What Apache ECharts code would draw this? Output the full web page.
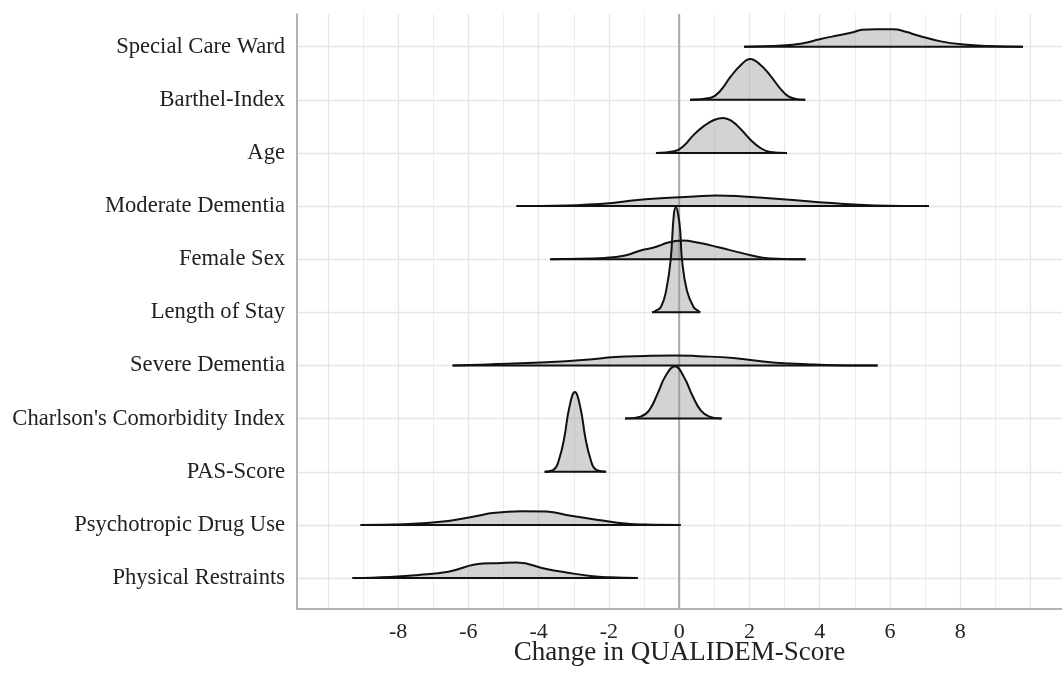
<!DOCTYPE html>
<html><head><meta charset="utf-8">
<script src="https://cdn.jsdelivr.net/npm/echarts@6/dist/echarts.min.js"></script>
<style>html,body{margin:0;padding:0;background:#fff}#chart{width:1062px;height:675px}</style>
</head><body><div id="chart"></div>
<script>
// Categories from bottom (index 0) to top (index 10)
const categories = ['Physical Restraints', 'Psychotropic Drug Use', 'PAS-Score', "Charlson's Comorbidity Index",
  'Severe Dementia', 'Length of Stay', 'Female Sex', 'Moderate Dementia', 'Age', 'Barthel-Index', 'Special Care Ward'];
const xTickLabels = [-8, -6, -4, -2, 0, 2, 4, 6, 8];

// Density outlines: x positions and ridge heights (in row units)
const physicalRestraintsX = [-9.3, -8.25, -7.41, -6.57, -5.59, -5.17, -4.62, -3.78, -3.22, -2.52, -1.96, -1.18];
const physicalRestraintsH = [0, 0.02, 0.056, 0.12, 0.275, 0.28, 0.29, 0.17, 0.106, 0.0375, 0.0125, 0];
const psychotropicX = [-9.07, -7.83, -6.57, -5.73, -5.31, -4.48, -3.78, -3.08, -2.24, -1.54, -0.98, 0.04];
const psychotropicH = [0, 0.0125, 0.075, 0.17, 0.225, 0.256, 0.25, 0.17, 0.0875, 0.025, 0.006, 0];
const pasScoreX = [-3.83, -3.56, -3.42, -3.27, -3.13, -2.97, -2.81, -2.67, -2.52, -2.38, -2.08];
const pasScoreH = [0, 0.044, 0.23, 0.64, 1.2, 1.5, 1.2, 0.64, 0.23, 0.044, 0];
const charlsonX = [-1.54, -1.1, -0.86, -0.62, -0.38, -0.12, 0.14, 0.38, 0.62, 0.86, 1.21];
const charlsonH = [0, 0.038, 0.15, 0.46, 0.81, 0.985, 0.78, 0.43, 0.15, 0.038, 0];
const severeDementiaX = [-6.45, -5.45, -3.78, -2.66, -1.82, -0.98, -0.14, 0.56, 1.54, 2.66, 3.64, 4.48, 5.65];
const severeDementiaH = [0, 0.02, 0.06, 0.106, 0.16, 0.18, 0.19, 0.175, 0.14, 0.056, 0.025, 0.006, 0];
const lengthOfStayX = [-0.77, -0.68, -0.52, -0.37, -0.24, -0.15, -0.09, -0.03, 0.03, 0.08, 0.22, 0.41, 0.55, 0.6];
const lengthOfStayH = [0, 0.025, 0.1, 0.41, 1.0, 1.85, 1.98, 1.85, 1.54, 1.0, 0.41, 0.1, 0.025, 0];
const femaleSexX = [-3.67, -3.22, -2.1, -1.54, -1.12, -0.7, -0.28, 0.07, 0.56, 1.12, 1.82, 2.38, 2.94, 3.6];
const femaleSexH = [0, 0.006, 0.025, 0.07, 0.16, 0.225, 0.32, 0.35, 0.31, 0.225, 0.11, 0.03, 0.006, 0];
const moderateDementiaX = [-4.63, -3.22, -1.89, -1.26, -0.42, 0.42, 1.05, 1.82, 2.94, 4.34, 5.59, 7.11];
const moderateDementiaH = [0, 0.012, 0.06, 0.11, 0.15, 0.18, 0.2, 0.18, 0.13, 0.056, 0.012, 0];
const ageX = [-0.66, -0.14, 0.14, 0.42, 0.71, 0.99, 1.25, 1.5, 1.75, 2.03, 2.31, 2.59, 3.07];
const ageH = [0, 0.03, 0.14, 0.345, 0.51, 0.62, 0.66, 0.6, 0.45, 0.25, 0.094, 0.019, 0];
const barthelX = [0.31, 0.9, 1.18, 1.46, 1.75, 2.02, 2.31, 2.59, 2.88, 3.11, 3.35, 3.59];
const barthelH = [0, 0.038, 0.176, 0.43, 0.65, 0.77, 0.66, 0.46, 0.21, 0.063, 0.013, 0];
const specialCareX = [1.85, 2.94, 3.5, 4.0, 4.5, 4.95, 5.2, 5.6, 6.1, 6.45, 6.8, 7.45, 8.1, 8.8, 9.79];
const specialCareH = [0, 0.02, 0.06, 0.14, 0.21, 0.27, 0.32, 0.33, 0.33, 0.28, 0.21, 0.1, 0.04, 0.012, 0];

const ridgeX = [physicalRestraintsX, psychotropicX, pasScoreX, charlsonX, severeDementiaX, lengthOfStayX,
  femaleSexX, moderateDementiaX, ageX, barthelX, specialCareX];
const ridgeH = [physicalRestraintsH, psychotropicH, pasScoreH, charlsonH, severeDementiaH, lengthOfStayH,
  femaleSexH, moderateDementiaH, ageH, barthelH, specialCareH];

const FONT = 'Liberation Serif';
const chart = echarts.init(document.getElementById('chart'), null, {renderer: 'canvas'});

const series = [];
// zero reference line
series.push({
  type: 'line', data: [[0, -0.583], [0, 10.615]], showSymbol: false, silent: true,
  lineStyle: {color: '#a8a8a8', width: 2}, z: 1
});
for (let i = categories.length - 1; i >= 0; i--) {
  const xs = ridgeX[i], hs = ridgeH[i];
  series.push({
    type: 'line', name: categories[i],
    data: xs.map((x, k) => [x, i + hs[k]]),
    smooth: 0.45, showSymbol: false, silent: true,
    lineStyle: {color: '#111', width: 2},
    areaStyle: {color: 'rgba(150,150,150,0.42)', origin: i, opacity: 1},
    z: 2
  });
  series.push({
    type: 'line', data: [[xs[0], i], [xs[xs.length - 1], i]], showSymbol: false, silent: true,
    lineStyle: {color: '#111', width: 2}, z: 2
  });
}

chart.setOption({
  animation: false,
  backgroundColor: '#fff',
  grid: {left: 297, right: 0, top: 14, bottom: 66, containLabel: false, outerBoundsMode: 'none'},
  xAxis: {
    type: 'value', min: -10.88, max: 10.9, splitNumber: 11, minInterval: 2, maxInterval: 2,
    axisLine: {show: true, onZero: false, lineStyle: {color: '#9a9a9a', width: 1.5}},
    axisTick: {show: false},
    axisLabel: {
      margin: 12, fontFamily: FONT, fontSize: 22, color: '#222',
      formatter: v => xTickLabels.indexOf(v) >= 0 ? String(v) : ''
    },
    splitLine: {show: true, showMinLine: false, showMaxLine: false, lineStyle: {color: '#e6e6e6', width: 1.3}},
    minorTick: {show: false, splitNumber: 2},
    minorSplitLine: {show: true, lineStyle: {color: '#ececec', width: 1}},
    name: 'Change in QUALIDEM-Score', nameLocation: 'middle', nameGap: 30, nameMoveOverlap: false,
    nameTextStyle: {fontFamily: FONT, fontSize: 27, color: '#222', verticalAlign: 'top'}
  },
  yAxis: {
    type: 'value', min: -0.583, max: 10.615, splitNumber: 11, minInterval: 1, maxInterval: 1,
    axisLine: {show: true, onZero: false, lineStyle: {color: '#9a9a9a', width: 1.5}},
    axisTick: {show: false},
    axisLabel: {
      margin: 12, fontFamily: FONT, fontSize: 22.6, color: '#222',
      formatter: v => (Number.isInteger(v) && categories[v] !== undefined) ? categories[v] : ''
    },
    splitLine: {show: true, showMinLine: false, showMaxLine: false, lineStyle: {color: '#e6e6e6', width: 1.3}}
  },
  series: series
});
</script>
</body></html>
